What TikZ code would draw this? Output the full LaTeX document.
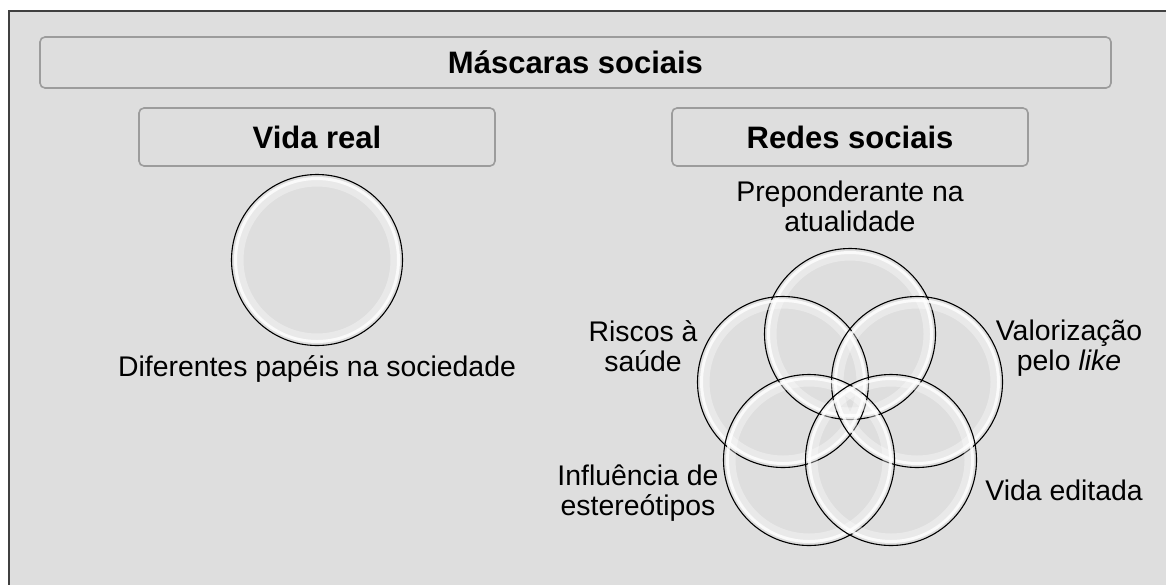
\documentclass[tikz,border=0pt]{standalone}
\usepackage{fontspec}
\setmainfont{Liberation Sans}
\usepackage{xcolor}
\usetikzlibrary{positioning}
\definecolor{fundo}{HTML}{DEDEDE}
\definecolor{borda}{HTML}{9C9C9C}
\tikzset{
  caixa/.style = {draw=borda, line width=1.6pt, rounded corners=5pt,
    fill=fundo, inner sep=0pt, font=\fontsize{31}{36}\selectfont\bfseries},% caixa de titulo
  bolha/.style = {circle, draw=black, line width=1.1pt, minimum size=171pt,
    inner sep=0pt, path picture={
      \draw[white, line width=9pt, opacity=.35] (path picture bounding box.center) circle (78pt);
      \draw[white, line width=3pt, opacity=.8] (path picture bounding box.center) circle (81.5pt);
    }},% bolha de vidro
  rotulo/.style = {align=center, inner sep=0pt, anchor=north,
    font=\fontsize{28.4}{30}\selectfont}% texto das bolhas
}
\begin{document}
\begin{tikzpicture}[x=1pt, y=-1pt]
\fill[white] (0,0) rectangle (1166,584);
\useasboundingbox (0,0) rectangle (1166,584);
\clip (0,0) rectangle (1166,584);
\draw[line width=1.5pt, draw=black!75, fill=fundo] (9,11) rectangle (1190,610);

\node[caixa, minimum width=1071pt, minimum height=51pt] (titulo) at (575.5,62.5) {Máscaras sociais};
\node[caixa, minimum width=356pt, minimum height=58pt] (vida) at (317,137) {Vida real};
\node[caixa, minimum width=356pt, minimum height=58pt] (redes) at (850,137) {Redes sociais};

% vida real
\node[bolha] (b0) at (317,260) {};
\node[rotulo] (papeis) at (317,355) {Diferentes papéis na sociedade};

% redes sociais
\node[bolha] (b1) at (850,334) {};
\node[bolha] (b2) at (783,382) {};
\node[bolha] (b3) at (917,382) {};
\node[bolha] (b4) at (809,460) {};
\node[bolha] (b5) at (891,460) {};

\node[rotulo] (atual) at (850,181) {Preponderante na\\atualidade};
\node[rotulo] (riscos) at (643,320) {Riscos à\\saúde};
\node[rotulo] (like) at (1069,320) {Valorização\\pelo \textit{like}};
\node[rotulo] (estereo) at (638,465) {Influência de\\estereótipos};
\node[rotulo] (editada) at (1064,480) {Vida editada};
\end{tikzpicture}
\end{document}
